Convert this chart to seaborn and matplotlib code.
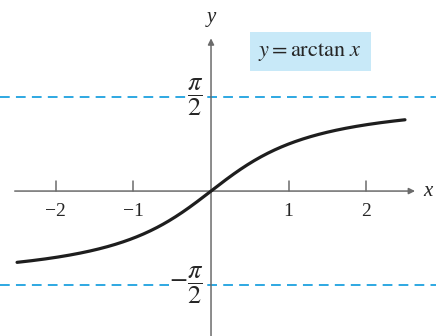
import numpy as np
import pandas as pd
import matplotlib
matplotlib.use("Agg")
import matplotlib.pyplot as plt
import seaborn as sns

sns.set_theme(style="white")
plt.rcParams["font.family"] = ["Liberation Serif", "DejaVu Serif"]
plt.rcParams["mathtext.fontset"] = "stix"

# Plotted function and axis annotations
x_range = (-2.5, 2.5)
x_ticks = [-2, -1, 1, 2]
x_tick_labels = ["\u22122", "\u22121", "1", "2"]
asymptotes = [np.pi / 2, -np.pi / 2]
asymptote_labels = [r"$\dfrac{\pi}{2}$", r"$-\dfrac{\pi}{2}$"]
curve_label = r"$y = \mathrm{arctan}\ x$"

xs = np.linspace(x_range[0], x_range[1], 400)
df = pd.DataFrame({"x": xs, "y": np.arctan(xs)})

fig = plt.figure(figsize=(4.36, 3.36), dpi=100)
ax = fig.add_axes([0, 0, 1, 1])
ax.set_xlim(-2.72, 2.90)
ax.set_ylim(-2.42, 3.19)
ax.axis("off")

axis_color = "#6b6b6b"
blue = "#2ea8e2"
text_color = "#262626"

# Horizontal asymptotes
for yv in asymptotes:
    ax.axhline(yv, color=blue, lw=1.4, ls=(0, (5, 3.2)), zorder=1)

# Coordinate axes with arrowheads
ax.annotate("", xy=(2.63, 0), xytext=(-2.53, 0),
            arrowprops=dict(arrowstyle="-|>", color=axis_color, lw=1.1,
                            mutation_scale=9, shrinkA=0, shrinkB=0), zorder=2)
ax.annotate("", xy=(0, 2.55), xytext=(0, -2.42),
            arrowprops=dict(arrowstyle="-|>", color=axis_color, lw=1.1,
                            mutation_scale=9, shrinkA=0, shrinkB=0), zorder=2)
ax.text(2.74, 0, "x", style="italic", fontsize=15, ha="left", va="center",
        color=text_color)
ax.text(0, 2.90, "y", style="italic", fontsize=15, ha="center", va="center",
        color=text_color)

# Tick marks and labels on the x axis
for t, lab in zip(x_ticks, x_tick_labels):
    ax.plot([t, t], [0, 0.17], color=axis_color, lw=1.1, zorder=2)
    ax.text(t, -0.2, lab, fontsize=14, ha="center", va="top", color=text_color)

# Asymptote labels on the y axis
for yv, lab in zip(asymptotes, asymptote_labels):
    ax.text(-0.1, yv, lab, fontsize=19, ha="right", va="center",
            color=text_color, zorder=4,
            bbox=dict(boxstyle="square,pad=0.02", fc="white", ec="none"))

# The curve
sns.lineplot(data=df, x="x", y="y", ax=ax, color="#1e1e1e", lw=2.3,
             zorder=3, legend=False)

ax.text(1.28, 2.33, curve_label, fontsize=16, ha="center", va="center",
        color=text_color,
        bbox=dict(boxstyle="square,pad=0.38", fc="#c8e9f8", ec="none"))

fig.savefig("out.png", dpi=100)
